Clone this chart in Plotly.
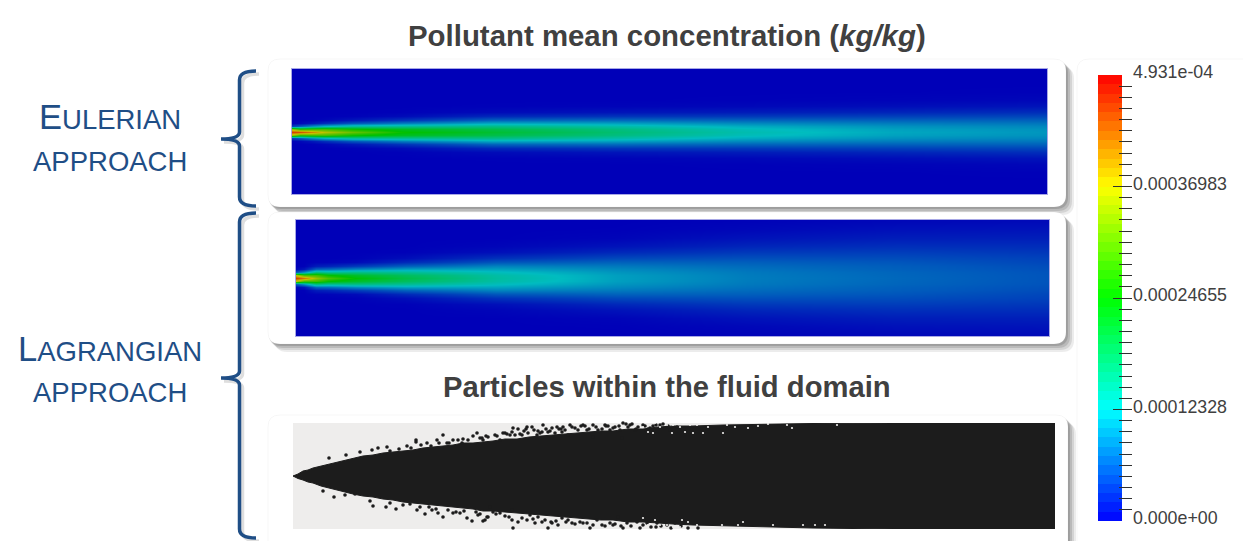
import numpy as np
import plotly.graph_objects as go

W, H = 1243, 541

# --- values -----------------------------------------------------------------
ROW_OFFSETS = [0, 3, 6, 9, 12, 16, 20, 26, 32, 40, 48, 56, 63]

EULER_STATIONS = [0, 8, 20, 32, 60, 110, 200, 320, 450, 600, 755]
EULER_Z = [  # concentration, 1e-4 kg/kg; one list per station, centre line outwards
    [4.6, 3.4, .4, .01, 0, 0, 0, 0, 0, 0, 0, 0, 0],
    [4.5, 2.73, .61, .05, 0, 0, 0, 0, 0, 0, 0, 0, 0],
    [4.1, 2.84, .94, .15, .01, 0, 0, 0, 0, 0, 0, 0, 0],
    [3.6, 2.89, 1.17, .29, .04, 0, 0, 0, 0, 0, 0, 0, 0],
    [3.1, 2.55, 1.45, .56, .15, .012, 0, 0, 0, 0, 0, 0, 0],
    [2.5, 2.26, 1.52, .81, .34, .07, .01, 0, 0, 0, 0, 0, 0],
    [2.15, 2.0, 1.6, 1.1, .65, .26, .07, .006, 0, 0, 0, 0, 0],
    [1.75, 1.66, 1.4, 1.05, .7, .34, .13, .02, 0, 0, 0, 0, 0],
    [1.35, 1.29, 1.13, .9, .66, .375, .18, .046, .008, 0, 0, 0, 0],
    [1.1, 1.06, .96, .81, .64, .42, .24, .086, .023, .002, 0, 0, 0],
    [.98, .955, .88, .77, .64, .46, .30, .13, .047, .009, .001, 0, 0],
]

LAGR_STATIONS = [0, 8, 20, 32, 60, 110, 200, 320, 450, 600, 753]
LAGR_Z = [
    [4.6, 3.6, .6, .05, 0, 0, 0, 0, 0, 0, 0, 0, 0],
    [4.2, 2.9, .97, .16, .01, 0, 0, 0, 0, 0, 0, 0, 0],
    [3.4, 2.85, 1.65, .67, .19, .02, 0, 0, 0, 0, 0, 0, 0],
    [2.95, 2.5, 1.5, .72, .24, .03, 0, 0, 0, 0, 0, 0, 0],
    [2.45, 2.2, 1.6, .9, .4, .07, .01, 0, 0, 0, 0, 0, 0],
    [2.0, 1.87, 1.51, 1.06, .65, .27, .09, .01, 0, 0, 0, 0, 0],
    [1.45, 1.41, 1.27, 1.07, .87, .56, .32, .1, .03, 0, 0, 0, 0],
    [1.05, 1.04, .98, .9, .8, .64, .47, .26, .12, .03, .005, 0, 0],
    [.82, .81, .79, .75, .70, .62, .52, .37, .24, .12, .05, .02, .008],
    [.68, .67, .66, .63, .61, .56, .50, .40, .30, .19, .11, .055, .03],
    [.55, .55, .54, .52, .50, .46, .43, .36, .29, .20, .13, .075, .045],
]

CLOUD_X = [0, 5, 10, 15, 20, 28, 36, 44, 52, 60, 70, 80, 90, 100, 110, 120, 130, 140, 150, 160, 170, 180, 190, 200,
           212, 224, 236, 248, 260, 272, 284, 296, 308, 320, 335, 350, 365, 380, 400, 430, 470, 520, 600, 680, 762]
CLOUD_UP = [0, 2, 5, 6, 8, 10, 12, 14, 16, 18, 20, 21, 23, 24, 25, 26, 28, 29, 30, 31, 33, 33, 34, 35,
            37, 37, 39, 40, 41, 42, 43, 44, 45, 45, 47, 47, 49, 50, 50, 51, 52, 52.5, 53, 53, 53]
CLOUD_DOWN = [0, 2.5, 4, 6, 7, 10, 12, 14, 16, 18, 20, 21, 23, 24, 26, 27, 28, 29, 30, 31, 32, 33, 35, 35,
              36, 37, 38, 39, 40, 41, 42, 43, 44, 44, 46, 46, 47, 48, 49, 50, 51, 52, 53, 53, 53]

SPECK_TOP_X = [36, 53, 67, 79, 85, 94, 97, 114, 123, 123, 134, 144, 150, 154, 160, 170, 169, 180, 184, 189, 195,
               190, 202, 207, 212, 217, 220, 225, 222, 229, 234, 239, 235, 244, 250, 249, 255, 259, 264, 262, 270,
               269, 277, 282, 275, 290, 294, 300, 305, 312, 317, 300, 322, 330, 327, 337, 342, 350, 357, 367, 377,
               384, 329, 210, 233, 245, 268, 292, 313, 333, 343, 363,
               106, 118, 128, 138, 146, 156, 165, 175, 187, 193, 204, 214, 219, 227, 231, 241, 247, 253, 257, 266,
               272, 279, 285, 288, 296, 303, 309, 315, 320, 326, 335, 339, 345, 352, 355, 360, 370, 375]
SPECK_TOP_Y = [18, 21, 24, 26, 28, 29, 25, 30, 36, 34, 33, 36, 41, 33, 36, 37, 33, 40, 43, 38, 39,
               36, 41, 36, 43, 41, 48, 47, 41, 41, 49, 49, 43, 41, 51, 44, 44, 48, 49, 43, 49,
               44, 51, 48, 41, 51, 46, 51, 46, 51, 46, 39, 49, 53, 46, 51, 46, 51, 48, 51, 46,
               49, 38, 43, 47, 45, 47, 50, 50, 52, 47, 51,
               27, 28, 31, 30, 33, 33, 36, 36, 38, 40, 40, 42, 44, 42, 45, 46, 43, 47, 45, 47,
               46, 49, 46, 50, 47, 49, 47, 50, 48, 50, 49, 52, 49, 50, 47, 50, 52, 50]

SPECK_LOW_X = [30, 41, 52, 62, 77, 80, 93, 97, 103, 124, 132, 139, 145, 150, 160, 167, 174, 179, 190, 194, 185,
               197, 200, 195, 192, 219, 225, 220, 242, 249, 245, 259, 265, 269, 279, 287, 294, 304, 309, 317, 325,
               334, 344, 354, 364, 374, 382, 255, 219, 207, 237, 275, 297, 320, 330, 347, 363,
               763, 763, 763, 763, 763, 763,
               110, 117, 127, 136, 143, 155, 163, 171, 183, 187, 203, 212, 216, 229, 234, 240, 252, 258, 263, 273,
               282, 290, 300, 312, 322, 328, 338, 350, 358, 368, 378, 388, 395, 405]
SPECK_LOW_Y = [-15, -21, -19, -18, -25, -30, -31, -27, -33, -34, -38, -34, -37, -41, -37, -37, -42, -45, -45, -41, -39,
               -31, -36, -41, -44, -44, -46, -52, -47, -46, -41, -47, -49, -42, -47, -46, -47, -44, -49, -47, -41,
               -47, -46, -47, -47, -49, -47, -52, -34, -37, -39, -44, -52, -49, -52, -52, -51,
               42, 32, 17, 0, -17, -47,
               -29, -28, -31, -31, -33, -34, -36, -35, -36, -38, -38, -40, -41, -42, -44, -43, -44, -46, -45, -46,
               -48, -47, -49, -50, -48, -50, -50, -49, -51, -50, -52, -50, -52, -52]

HOLE_X = [350, 357, 362, 355, 360, 367, 374, 379, 380, 387, 392, 397, 400, 404, 410, 415, 430, 434, 442, 455, 465,
          475, 494, 499, 544, 350, 355, 362, 367, 374, 380, 389, 387, 395, 404, 420, 429, 450, 445, 480, 510, 522, 532]
HOLE_Y = [49, 51, 53, 44, 43, 49, 51, 43, 51, 49, 44, 51, 43, 51, 43, 49, 43, 51, 49, 48, 50,
          52, 51, 48, 51, -42, -49, -44, -49, -49, -51, -44, -51, -46, -49, -51, -49, -46, -49, -49, -49, -49, -49]

CBAR_MAX = 4.931e-04
CBAR_MID_TICKS = [0.00012328, 0.00024655, 0.00036983]
CBAR_MID_LABELS = ["0.00012328", "0.00024655", "0.00036983"]
CBAR_END_TICKS = [0.0, 4.931e-04]
CBAR_END_LABELS = ["0.000e+00", "4.931e-04"]
CBAR_BANDS = 48

# --- colours ----------------------------------------------------------------
BRIGHT = [[0, "#0000ff"], [.25, "#00ffff"], [.5, "#00ff00"], [.75, "#ffff00"], [1, "#ff0000"]]
SHADED = [[0, "#0000b8"], [.25, "#00bcc0"], [.5, "#00c000"], [.75, "#c8c000"], [1, "#d81000"]]
BLUE = "#1f4e86"
GREY = "#404040"
INK = "#1c1c1c"
FONT = "Liberation Sans"

# --- helpers ----------------------------------------------------------------
def fx(p): return p / W
def fy(p): return 1 - p / H
def dom_x(a, b): return [fx(a), fx(b)]
def dom_y(top, bot): return [fy(bot), fy(top)]

def card_path(x0, y0, x1, y1, r=12):
    p = lambda x, y: f"{fx(x):.5f},{fy(y):.5f}"
    return (f"M{p(x0 + r, y0)} L{p(x1 - r, y0)} Q{p(x1, y0)} {p(x1, y0 + r)} L{p(x1, y1 - r)} "
            f"Q{p(x1, y1)} {p(x1 - r, y1)} L{p(x0 + r, y1)} Q{p(x0, y1)} {p(x0, y1 - r)} "
            f"L{p(x0, y0 + r)} Q{p(x0, y0)} {p(x0 + r, y0)} Z")

def card(x0, y0, x1, y1, shadow=True):
    out = []
    if shadow:
        for off, a in [(8, .10), (6, .14), (4, .18), (2, .22)]:
            out.append(dict(type="path", xref="paper", yref="paper", layer="below",
                            path=card_path(x0 + off - 1, y0 + off, x1 + off, y1 + off),
                            fillcolor=f"rgba(70,70,70,{a})", line_width=0))
    out.append(dict(type="path", xref="paper", yref="paper", layer="below",
                    path=card_path(x0, y0, x1, y1), fillcolor="white",
                    line=dict(color="rgba(0,0,0,0.035)", width=1)))
    return out

def brace_path(top, tip, bot, dx=0, dy=0):
    p = lambda x, y: f"{fx(x + dx):.5f},{fy(y + dy):.5f}"
    return (f"M{p(256, top)} Q{p(239.5, top)} {p(239.5, top + 9)} L{p(239.5, tip - 7)} "
            f"Q{p(239.5, tip)} {p(221, tip)} Q{p(239.5, tip)} {p(239.5, tip + 7)} "
            f"L{p(239.5, bot - 9)} Q{p(239.5, bot)} {p(256, bot)}")

def brace(top, tip, bot):
    return [dict(type="path", xref="paper", yref="paper", layer="below",
                 path=brace_path(top, tip, bot, 3, 3), line=dict(color="rgba(0,0,0,0.13)", width=3.5)),
            dict(type="path", xref="paper", yref="paper", layer="below",
                 path=brace_path(top, tip, bot), line=dict(color=BLUE, width=3.5))]

def field_grid(z_by_station):
    half = np.array(z_by_station).T            # rows = offsets, cols = stations
    return np.vstack([half[:0:-1], half])

signed_rows = [-d for d in ROW_OFFSETS[:0:-1]] + ROW_OFFSETS

def hidden(**kw):
    return dict(visible=False, fixedrange=True, automargin=False, **kw)

fig = go.Figure()

# --- concentration fields ---------------------------------------------------
fig.add_trace(go.Heatmap(x=EULER_STATIONS, y=signed_rows, z=field_grid(EULER_Z), zmin=0, zmax=CBAR_MAX * 1e4,
                         colorscale=SHADED, zsmooth="best", showscale=False, xaxis="x", yaxis="y",
                         hoverinfo="skip"))
fig.add_trace(go.Heatmap(x=LAGR_STATIONS, y=signed_rows, z=field_grid(LAGR_Z), zmin=0, zmax=CBAR_MAX * 1e4,
                         colorscale=SHADED, zsmooth="best", showscale=False, xaxis="x2", yaxis="y2",
                         hoverinfo="skip"))

# --- particle cloud ---------------------------------------------------------
fig.add_trace(go.Scatter(x=CLOUD_X + CLOUD_X[::-1], y=CLOUD_UP + [-v for v in CLOUD_DOWN[::-1]],
                         mode="lines", fill="toself", fillcolor=INK, line=dict(color=INK, width=1),
                         xaxis="x3", yaxis="y3", hoverinfo="skip"))
fig.add_trace(go.Scatter(x=SPECK_TOP_X + SPECK_LOW_X, y=SPECK_TOP_Y + SPECK_LOW_Y, mode="markers",
                         xaxis="x3", yaxis="y3", hoverinfo="skip", cliponaxis=False,
                         marker=dict(color=INK, size=3.6, symbol="circle", line_width=0)))
fig.add_trace(go.Scatter(x=HOLE_X, y=HOLE_Y, mode="markers", xaxis="x3", yaxis="y3", hoverinfo="skip",
                         marker=dict(color="#eeedec", size=2.2, symbol="circle", line_width=0)))

# --- colour bar -------------------------------------------------------------
levels = np.linspace(0, CBAR_MAX, CBAR_BANDS + 1)
fig.add_trace(go.Heatmap(x=[0, 24], y=levels, z=[[v] for v in (levels[:-1] + levels[1:]) / 2],
                         zmin=0, zmax=CBAR_MAX, colorscale=BRIGHT, showscale=False,
                         xaxis="x4", yaxis="y4", hoverinfo="skip"))
fig.add_trace(go.Scatter(x=[None], y=[None], mode="markers", xaxis="x4", yaxis="y5", hoverinfo="skip"))

minor_step = CBAR_MID_TICKS[0] / 10
minor_vals = [round(i * minor_step, 9) for i in range(1, 40) if i % 10]

cbar_axis = dict(domain=dom_y(75, 521), range=[0, CBAR_MAX], anchor="x4", side="right", ticks="inside",
                 showgrid=False, zeroline=False, showline=False, fixedrange=True, tickcolor="#303030",
                 tickwidth=1.2, tickfont=dict(family=FONT, size=17.8, color=GREY), ticklabelshift=-3,
                 automargin=False)

panel_line = dict(showline=True, mirror=True, linecolor="#a8a8e6", linewidth=1, automargin=False)

layout_shapes = []
layout_shapes += card(268, 59, 1066, 207)
layout_shapes += card(268, 212, 1066, 344)
layout_shapes += card(268, 415, 1068, 560)
layout_shapes += card(1077, 59, 1270, 560, shadow=False)
layout_shapes += brace(71, 139, 206)
layout_shapes += brace(213, 378, 538)
layout_shapes.append(dict(type="rect", xref="x3", yref="y3", x0=0, x1=762, y0=-53, y1=53, layer="below",
                          fillcolor="#eeedec", line_width=0))

def label(text, cx, cy, size, color, **kw):
    return dict(text=text, x=fx(cx), y=fy(cy), xref="paper", yref="paper", xanchor="center", yanchor="middle",
                showarrow=False, font=dict(family=FONT, size=size, color=color), **kw)

annotations = [
    label("<b>Pollutant mean concentration (<i>kg/kg</i>)</b>", 667, 36, 29.4, GREY),
    label("<b>Particles within the fluid domain</b>", 667, 387, 29.2, GREY),
    label("<span style='font-size:34.5px'>E</span>ULERIAN", 109.5, 117.5, 27.5, BLUE),
    label("APPROACH", 109.5, 161, 27.5, BLUE),
    label("<span style='font-size:34.5px'>L</span>AGRANGIAN", 110, 348.5, 27.5, BLUE),
    label("APPROACH", 109.5, 392, 27.5, BLUE),
]

fig.update_layout(
    width=W, height=H, autosize=False, showlegend=False,
    margin=dict(l=0, r=0, t=0, b=0, pad=0, autoexpand=False),
    paper_bgcolor="white", plot_bgcolor="rgba(0,0,0,0)",
    shapes=layout_shapes, annotations=annotations,
    xaxis=dict(domain=dom_x(292, 1047), range=[0, 755], showticklabels=False, ticks="", showgrid=False,
               zeroline=False, anchor="y", fixedrange=True, **panel_line),
    yaxis=dict(domain=dom_y(69, 194), range=[-62.5, 62.5], showticklabels=False, ticks="", showgrid=False,
               zeroline=False, anchor="x", fixedrange=True, **panel_line),
    xaxis2=dict(domain=dom_x(296, 1049), range=[0, 753], showticklabels=False, ticks="", showgrid=False,
                zeroline=False, anchor="y2", fixedrange=True, **panel_line),
    yaxis2=dict(domain=dom_y(220, 336), range=[-58, 58], showticklabels=False, ticks="", showgrid=False,
                zeroline=False, anchor="x2", fixedrange=True, **panel_line),
    xaxis3=hidden(domain=dom_x(293, 1055), range=[0, 762], anchor="y3"),
    yaxis3=hidden(domain=dom_y(423, 529), range=[-53, 53], anchor="x3"),
    xaxis4=hidden(domain=dom_x(1098, 1132), range=[0, 34], anchor="y4"),
    yaxis4=dict(**cbar_axis, tickvals=CBAR_MID_TICKS, ticktext=CBAR_MID_LABELS, ticklen=19,
                minor=dict(tickvals=minor_vals, ticks="inside", ticklen=13, tickcolor="#303030", tickwidth=1.2)),
    yaxis5=dict(**cbar_axis, overlaying="y4", tickvals=CBAR_END_TICKS, ticktext=CBAR_END_LABELS, ticklen=10),
)

fig.write_html("out.html", config={"displayModeBar": False},
               post_script="document.body.style.margin='0';document.body.style.overflow='hidden';")
